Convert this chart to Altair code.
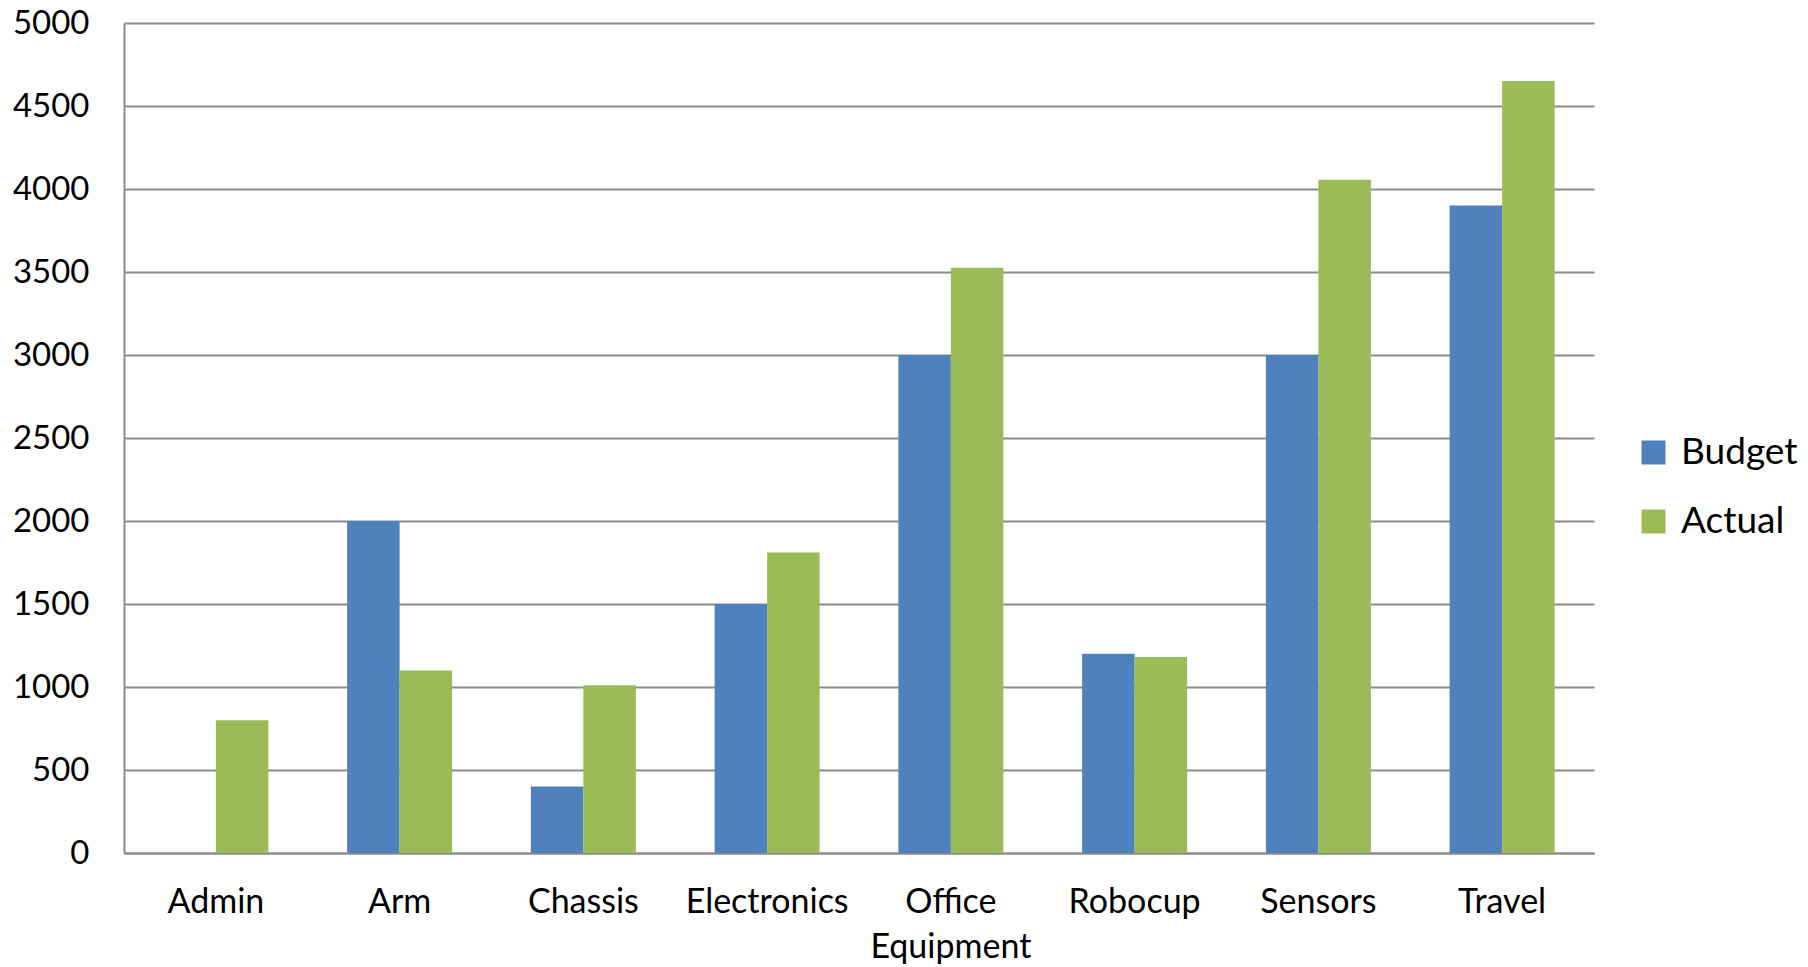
import altair as alt
import pandas as pd

# Spending per area: planned budget vs. actual spend
categories = ["Admin", "Arm", "Chassis", "Electronics", "Office Equipment",
              "Robocup", "Sensors", "Travel"]
budget = [0, 2000, 400, 1500, 3000, 1200, 3000, 3900]
actual = [800, 1100, 1010, 1810, 3525, 1180, 4055, 4650]
series = ["Budget", "Actual"]
colors = ["#4F81BD", "#9BBB59"]
y_ticks = list(range(0, 5001, 500))

rows = []
for cat, b, a in zip(categories, budget, actual):
    rows.append({"category": cat, "series": "Budget", "value": b})
    rows.append({"category": cat, "series": "Actual", "value": a})
df = pd.DataFrame(rows)

FONT = "Lato"
GRID = "#8c8c8c"

chart = (
    alt.Chart(df)
    .mark_bar()
    .encode(
        x=alt.X(
            "category:N",
            sort=categories,
            title=None,
            scale=alt.Scale(paddingInner=0.4286, paddingOuter=0.2143),
            axis=alt.Axis(
                labelAngle=0,
                ticks=False,
                grid=False,
                labelPadding=32,
                labelExpr="split(datum.label, ' ')",
                labelLineHeight=45,
                labelFontSize=34,
                labelFont=FONT,
                labelColor="#000000",
                domainColor=GRID,
                domainWidth=2,
            ),
        ),
        xOffset=alt.XOffset("series:N", sort=series),
        y=alt.Y(
            "value:Q",
            title=None,
            scale=alt.Scale(domain=[0, 5000], nice=False),
            axis=alt.Axis(
                values=y_ticks,
                format="d",
                ticks=False,
                grid=True,
                gridColor=GRID,
                gridWidth=2,
                domainColor=GRID,
                domainWidth=2,
                labelPadding=35,
                labelFontSize=33,
                labelFont=FONT,
                labelColor="#000000",
            ),
        ),
        color=alt.Color(
            "series:N",
            sort=series,
            scale=alt.Scale(domain=series, range=colors),
            legend=alt.Legend(
                title=None,
                orient="none",
                legendX=1511,
                legendY=411,
                direction="vertical",
                symbolType="square",
                symbolSize=576,
                symbolStrokeWidth=0,
                labelFontSize=37,
                labelFont=FONT,
                labelColor="#000000",
                labelOffset=9,
                rowPadding=31,
                padding=0,
            ),
        ),
    )
    .properties(
        width=1470,
        height=830,
        autosize=alt.AutoSizeParams(type="none"),
        padding={"left": 124, "top": 23, "right": 214, "bottom": 114},
        background="white",
    )
    .configure_view(stroke=None)
)

chart.save("out.html", embed_options={"renderer": "svg", "actions": False})
